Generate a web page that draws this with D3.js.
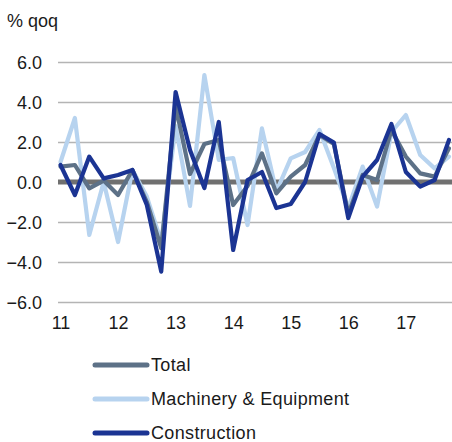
<!DOCTYPE html>
<html>
<head>
<meta charset="utf-8">
<script src="https://cdn.jsdelivr.net/npm/d3@7"></script>
<style>
  body { margin: 0; background: #fff; }
  #vis text { font-family: "Liberation Sans", Arial, sans-serif; fill: #1a1a1a; }
</style>
</head>
<body>
<div id="vis"></div>
<script>
// quarters 2011Q1 .. 2017Q4
const quarters = d3.range(28);
const yearLabels = ['11', '12', '13', '14', '15', '16', '17'];
const yTicks = [-6, -4, -2, 0, 2, 4, 6];

const total = [0.77, 0.85, -0.32, 0.07, -0.65, 0.6, -1.0, -3.3, 3.8, 0.4, 1.9, 2.1,
  -1.15, -0.2, 1.43, -0.57, 0.27, 0.85, 2.35, 1.9, -1.6, 0.35, 0.1, 2.6,
  1.27, 0.43, 0.27, 1.68];
const machinery = [1.0, 3.2, -2.65, 0.0, -3.0, 0.6, -0.73, -3.0, 2.8, -1.2, 5.35, 1.1,
  1.2, -2.15, 2.68, -0.48, 1.18, 1.5, 2.6, 0.7, -1.3, 0.77, -1.23, 2.5,
  3.35, 1.35, 0.68, 1.27];
const construction = [0.85, -0.65, 1.27, 0.18, 0.35, 0.6, -1.15, -4.48, 4.5, 1.6, -0.3, 3.0,
  -3.4, 0.1, 0.5, -1.3, -1.1, 0.0, 2.4, 1.97, -1.8, 0.27, 1.1, 2.9,
  0.5, -0.23, 0.1, 2.1];

const series = [
  { name: 'Total', values: total, colour: '#5d7187' },
  { name: 'Machinery & Equipment', values: machinery, colour: '#b7d3ef' },
  { name: 'Construction', values: construction, colour: '#1b3493' }
];
// draw order: light first, then total, construction on top
const drawOrder = [series[1], series[0], series[2]];

const W = 452, H = 442;
const fontSize = 18;
const $svg = d3.select('#vis').append('svg')
  .attr('width', W).attr('height', H);

const x = d3.scaleLinear().domain([0, 27]).range([60.5, 449]);
const y = d3.scaleLinear().domain([-6, 6]).range([302, 62]);

// gridlines
$svg.append('g')
  .selectAll('line')
  .data(yTicks.filter(d => d !== 0))
  .join('line')
  .attr('x1', 58).attr('x2', W)
  .attr('y1', d => Math.round(y(d)) + 0.5)
  .attr('y2', d => Math.round(y(d)) + 0.5)
  .attr('stroke', '#b4b4b4')
  .attr('stroke-width', 1.3);

// y axis labels
const yAxis = d3.axisLeft(y).tickValues(yTicks).tickSize(0).tickPadding(0)
  .tickFormat(d3.format('.1f'));
$svg.append('g')
  .attr('transform', 'translate(42,0)')
  .call(yAxis)
  .call(g => g.select('.domain').remove())
  .selectAll('text')
  .attr('font-size', fontSize)
  .attr('dy', '0.35em');

$svg.append('text')
  .attr('x', 7).attr('y', 27)
  .attr('font-size', fontSize)
  .text('% qoq');

// x axis labels
const xAxis = d3.axisBottom(x)
  .tickValues(quarters.filter(q => q % 4 === 0))
  .tickSize(0).tickPadding(0)
  .tickFormat(q => yearLabels[q / 4]);
$svg.append('g')
  .attr('transform', 'translate(0,323)')
  .call(xAxis)
  .call(g => g.select('.domain').remove())
  .selectAll('text')
  .attr('font-size', fontSize)
  .attr('dy', '0.35em');

const line = d3.line()
  .x((d, i) => x(i))
  .y(d => y(d));

const $lines = $svg.append('g');

// zero line under the series
$lines.append('line')
  .attr('x1', 58).attr('x2', W)
  .attr('y1', y(0)).attr('y2', y(0))
  .attr('stroke', '#707070')
  .attr('stroke-width', 4.8);

$lines.selectAll('path')
  .data(drawOrder)
  .join('path')
  .attr('d', d => line(d.values))
  .attr('fill', 'none')
  .attr('stroke', d => d.colour)
  .attr('stroke-width', 4.2)
  .attr('stroke-linejoin', 'round')
  .attr('stroke-linecap', 'round');

// legend
const $legend = $svg.append('g')
  .selectAll('g')
  .data(series)
  .join('g')
  .attr('transform', (d, i) => `translate(0, ${365 + i * 34})`);

$legend.append('line')
  .attr('x1', 95).attr('x2', 147)
  .attr('y1', 0).attr('y2', 0)
  .attr('stroke', d => d.colour)
  .attr('stroke-width', 5)
  .attr('stroke-linecap', 'round');

$legend.append('text')
  .attr('x', 151)
  .attr('dy', '0.35em')
  .attr('font-size', fontSize)
  .attr('letter-spacing', 0.35)
  .text(d => d.name);
</script>
</body>
</html>
